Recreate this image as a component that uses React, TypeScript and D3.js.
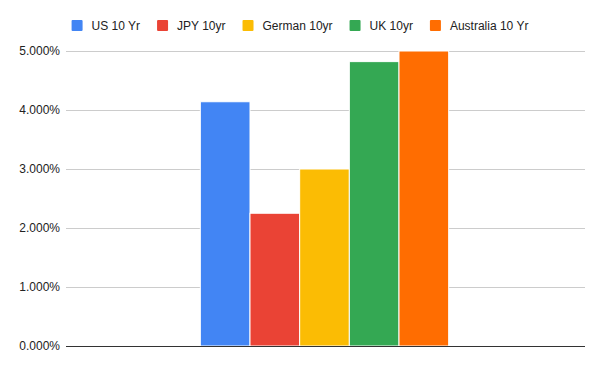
import React, { useEffect, useRef } from 'react';
import * as d3 from 'd3';

const seriesNames = ['US 10 Yr', 'JPY 10yr', 'German 10yr', 'UK 10yr', 'Australia 10 Yr'];
const seriesValues = [4.14, 2.25, 3.0, 4.82, 5.0];
const seriesColors = ['#4285F4', '#EA4335', '#FBBC04', '#34A853', '#FF6D01'];
const yTicks = [0, 1, 2, 3, 4, 5];

const App = () => {
  const ref = useRef<SVGSVGElement>(null);

  useEffect(() => {
    const width = 600, height = 371;
    const margin = { top: 51, right: 15, bottom: 25, left: 66 };
    const font = 'Arial, "Liberation Sans", sans-serif';
    const svg = d3.select(ref.current);
    svg.selectAll('*').remove();

    const y = d3.scaleLinear().domain([0, 5]).range([height - margin.bottom, margin.top]);
    const x = d3.scaleBand<string>()
      .domain(['g'])
      .range([margin.left, width - margin.right])
      .paddingInner(0)
      .paddingOuter(0.545);
    const xs = d3.scaleBand<string>()
      .domain(seriesNames)
      .range([0, x.bandwidth()])
      .padding(0);

    // gridlines
    svg.append('g')
      .selectAll('line')
      .data(yTicks.filter(d => d > 0))
      .enter().append('line')
      .attr('x1', margin.left)
      .attr('x2', width - margin.right)
      .attr('y1', d => Math.round(y(d)) + 0.5)
      .attr('y2', d => Math.round(y(d)) + 0.5)
      .attr('stroke', '#cccccc')
      .attr('stroke-width', 1);

    // y labels
    svg.append('g')
      .selectAll('text')
      .data(yTicks)
      .enter().append('text')
      .attr('x', margin.left - 6)
      .attr('y', d => y(d))
      .attr('dy', '0.35em')
      .attr('text-anchor', 'end')
      .attr('font-family', font)
      .attr('font-size', 12)
      .attr('fill', '#222')
      .text(d => d.toFixed(3) + '%');

    // bars
    svg.append('g')
      .selectAll('rect')
      .data(seriesValues)
      .enter().append('rect')
      .attr('x', (d, i) => (x('g') as number) + (xs(seriesNames[i]) as number) - 1)
      .attr('y', d => y(d))
      .attr('width', xs.bandwidth())
      .attr('height', d => y(0) - y(d))
      .attr('fill', (d, i) => seriesColors[i])
      .attr('stroke', 'white')
      .attr('stroke-width', 1);

    // baseline
    svg.append('line')
      .attr('x1', margin.left)
      .attr('x2', width - margin.right)
      .attr('y1', Math.round(y(0)) + 0.5)
      .attr('y2', Math.round(y(0)) + 0.5)
      .attr('stroke', '#333')
      .attr('stroke-width', 1);

    // legend
    const legend = svg.append('g');
    const items = legend.selectAll('g')
      .data(seriesNames)
      .enter().append('g');
    items.append('rect')
      .attr('width', 11)
      .attr('height', 11)
      .attr('rx', 1)
      .attr('y', -5.5)
      .attr('fill', (d, i) => seriesColors[i]);
    items.append('text')
      .attr('x', 20)
      .attr('dy', '0.35em')
      .attr('font-family', font)
      .attr('font-size', 12)
      .attr('fill', '#222')
      .text(d => d);
    let offset = 0;
    const widths: number[] = [];
    items.each(function () {
      const t = d3.select(this).select('text').node() as SVGTextElement;
      widths.push(20 + t.getComputedTextLength());
    });
    const gap = 17;
    const total = d3.sum(widths) + gap * (widths.length - 1);
    const start = width / 2 - total / 2;
    items.attr('transform', (d, i) => {
      const tx = start + offset;
      offset += widths[i] + gap;
      return `translate(${tx},25.5)`;
    });
  }, []);

  return (
    <svg ref={ref} width={600} height={371}
      style={{ position: 'absolute', left: 0, top: 0, background: 'white' }} />
  );
};

export default App;
